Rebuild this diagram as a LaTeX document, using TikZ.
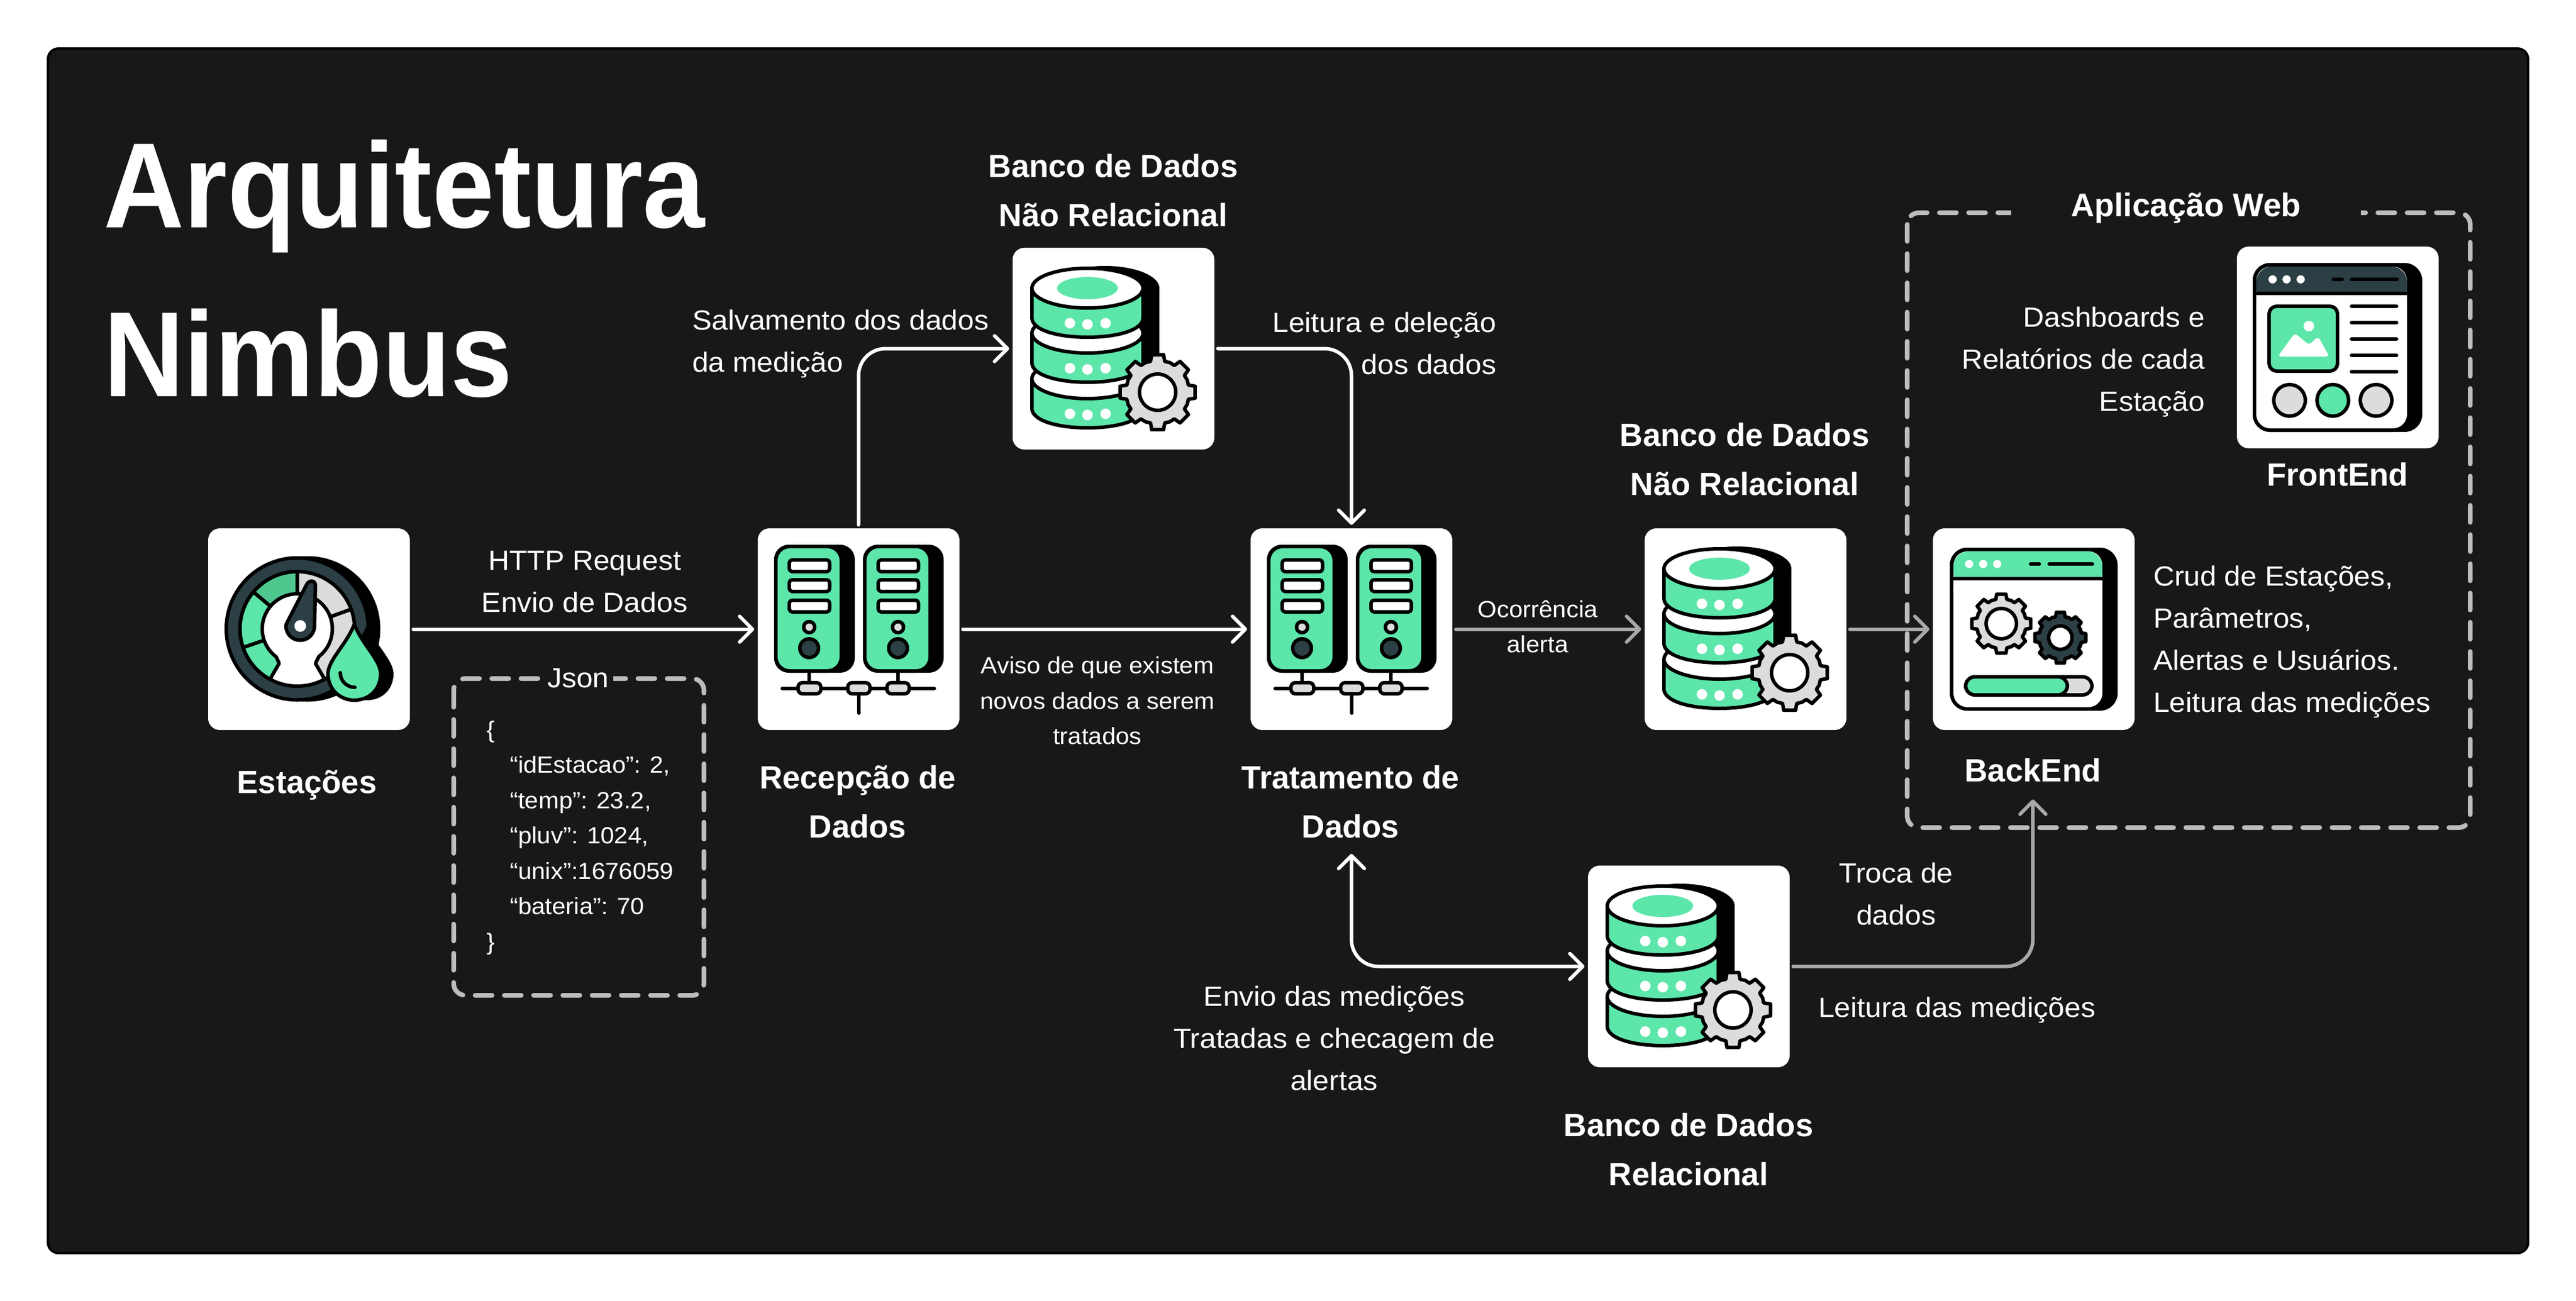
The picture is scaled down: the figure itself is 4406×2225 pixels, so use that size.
\documentclass[tikz,border=0pt]{standalone}
\usepackage{fontspec}
\setmainfont[FakeStretch=1.05,BoldFeatures={FakeStretch=0.99}]{Liberation Sans}
\newfontfamily\ttlfont[FakeStretch=0.92,BoldFeatures={FakeStretch=0.92}]{Liberation Sans}
\usetikzlibrary{arrows.meta}
\definecolor{bgc}{HTML}{181818}
\definecolor{gr}{HTML}{5CE6AA}
\definecolor{grd}{HTML}{4EC78F}
\definecolor{dk}{HTML}{2B3F44}
\definecolor{lg}{HTML}{DCDCDC}
\definecolor{dashc}{HTML}{BDBDBD}
\definecolor{arrg}{HTML}{A8A8A8}
\tikzset{
 card/.style={fill=white,rounded corners=4pt,minimum width=69pt,minimum height=69pt,inner sep=0pt,outer sep=1.2pt},
 il/.style={draw=black,line width=1.2pt,line join=round,line cap=round},
 flow/.style={line width=1.2pt,line cap=round,draw=white,-{Straight Barb[length=4.4pt,width=8.8pt,round,line width=1.2pt]}},
 flowb/.style={line width=1.2pt,line cap=round,draw=white,{Straight Barb[length=4.4pt,width=8.8pt,round,line width=1.2pt]}-{Straight Barb[length=4.4pt,width=8.8pt,round,line width=1.2pt]}},
 flowg/.style={flow,draw=arrg},
 dbox/.style={draw=dashc,line width=1.6pt,line cap=round,dash pattern=on 5.8pt off 4.2pt,rounded corners=4pt},
 tx/.style={text=white,inner sep=0pt,align=center,font=\fontsize{9.5}{14.4}\selectfont},
 txs/.style={text=white,inner sep=0pt,align=center,font=\fontsize{8}{12.1}\selectfont},
 tb/.style={text=white,inner sep=0pt,align=center,font=\fontsize{11}{16.8}\selectfont\bfseries},
 tt/.style={text=white,inner sep=0pt,anchor=base west,font=\fontsize{41.5}{50}\selectfont\ttlfont\bfseries},
}
\newcommand{\gearico}[5]{%
 \begin{scope}[shift={(#1,#2)}]
 \pgfmathsetmacro{\rb}{#3*0.83}
 \draw[il,fill=#5] (-13:\rb) \foreach \a in {0,45,...,315}{
   -- ({\a-13}:\rb) -- ({\a-9}:#3) -- ({\a+9}:#3) -- ({\a+13}:\rb) -- ({\a+22.5}:{\rb*1.015})
 } -- cycle;
 \draw[il,fill=white] (0,0) circle[radius=#4];
 \end{scope}}
\newcommand{\dblayer}[1]{%
 \draw[il,fill=gr] (33,#1) -- (33,#1+51) .. controls (33,#1+71) and (75,#1+84) .. (128,#1+84) .. controls (181,#1+84) and (223,#1+71) .. (223,#1+51) -- (223,#1);
 \draw[il,fill=white] (128,#1) ellipse[x radius=95,y radius=34];
 \foreach \dx/\dy in {98/60,128/62,159/60}{\fill[white] (\dx,#1+\dy) circle[radius=9];}
}
\newcommand{\dbicon}[2]{%
 \begin{scope}[shift={(#1,#2)}]
 \fill[black] (158,69) ellipse[x radius=93,y radius=38];
 \fill[black] (128,69) rectangle (251,240);
 \dblayer{224}
 \dblayer{146}
 \dblayer{69}
 \fill[gr] (128,69) ellipse[x radius=52,y radius=19];
 \gearico{248}{247}{65}{31}{lg}
 \end{scope}}
\newcommand{\towericon}[1]{%
 \begin{scope}[xshift=#1*0.2pt]
 \draw[il] (88,244) -- (88,274);
 \fill[black,rounded corners=5pt] (28,28) rectangle (166,247);
 \draw[il,fill=gr,rounded corners=4.8pt] (31,31) rectangle (143,244);
 \foreach \yy in {54,88,123}{\draw[il,fill=white,rounded corners=1pt] (54,\yy) rectangle (123,\yy+20);}
 \draw[il,fill=lg] (88,169) circle[radius=9.5];
 \draw[il,fill=dk] (88,205) circle[radius=16];
 \end{scope}}
\newcommand{\srvicon}[2]{%
 \begin{scope}[shift={(#1,#2)}]
 \draw[il] (42,274) -- (302,274);
 \draw[il] (173,274) -- (173,316);
 \towericon{0}
 \towericon{152}
 \foreach \xa/\xb in {69/108,154/192,221/259}{\draw[il,fill=lg,rounded corners=1.5pt] (\xa,264) rectangle (\xb,283);}
 \end{scope}}
\newcommand{\gaugeicon}[2]{%
 \begin{scope}[shift={(#1,#2)}]
 \fill[black] (170,172) circle[radius=124.5];
 \draw[il,fill=dk] (152.5,172) circle[radius=121.5];
 \begin{scope}[shift={(152.5,172)},y=0.2pt]
  \draw[il,fill=white] (0,0) circle[radius=98];
  \draw[il,fill=grd] (90:60) -- (90:98) arc (90:140:98) -- (140:60) arc (140:90:60) -- cycle;
  \draw[il,fill=gr] (140:60) -- (140:98) arc (140:199:98) -- (199:60) arc (199:140:60) -- cycle;
  \draw[il,fill=gr] (199:60) -- (199:98) arc (199:241.5:98) -- (-31,-59) -- (233:60) arc (233:199:60) -- cycle;
  \draw[il,fill=lg] (90:60) -- (90:98) arc (90:20:98) -- (20:60) arc (20:90:60) -- cycle;
  \draw[il,fill=lg] (20:60) -- (20:98) arc (20:-61.5:98) -- (31,-59) -- (-52:60) arc (-52:20:60) -- cycle;
  \draw[il,fill=dk] (-19,8) -- (16,76) .. controls (20,84) and (31,84) .. (31,74) -- (29.5,5) arc (0:-180:24.5) -- cycle;
  \fill[white] (5,5) circle[radius=10];
 \end{scope}
 \fill[black] (272,164) .. controls (258,200) and (227,225) .. (227,249) .. controls (227,276) and (248,294) .. (272,294) .. controls (297,294) and (317,276) .. (317,249) .. controls (317,225) and (286,200) .. (272,164) -- cycle;
 \draw[il,fill=gr] (250,164) .. controls (236,200) and (205,225) .. (205,249) .. controls (205,276) and (226,294) .. (250,294) .. controls (275,294) and (295,276) .. (295,249) .. controls (295,225) and (264,200) .. (250,164) -- cycle;
 \draw[il] (226,247) .. controls (226,262) and (238,272) .. (251,272);
 \end{scope}}
\newcommand{\frontcon}[2]{%
 \begin{scope}[shift={(#1,#2)}]
 \fill[black,rounded corners=6pt] (27,28) rectangle (317,317);
 \draw[il,fill=white,rounded corners=5.4pt] (30,31) rectangle (294,314);
 \fill[dk,rounded corners=5.4pt] (33,34) -- (33,100) -- (291,100) -- (291,34) -- cycle;
 \fill[white] (33,83) rectangle (291,110);
 \draw[il] (30,80) -- (294,80);
 \draw[il,rounded corners=5.4pt] (30,100) -- (30,31) -- (294,31) -- (294,100);
 \foreach \xx in {61,85,109}{\fill[white] (\xx,56) circle[radius=7];}
 \draw[il] (165,56) -- (180,56);
 \draw[il] (196,56) -- (274,56);
 \draw[il,fill=gr,rounded corners=2.6pt] (55,102) rectangle (172,213);
 \fill[white,rounded corners=1pt] (70,188) -- (99,148) -- (123,168) -- (139,154) -- (158,188) -- cycle;
 \fill[white] (123,136) circle[radius=9];
 \foreach \yy in {102,130,158,186,214}{\draw[il] (196,\yy) -- (273,\yy);}
 \draw[il,fill=lg] (90,263) circle[radius=27];
 \draw[il,fill=gr] (164,263) circle[radius=27];
 \draw[il,fill=lg] (238,263) circle[radius=27];
 \end{scope}}
\newcommand{\backicon}[2]{%
 \begin{scope}[shift={(#1,#2)}]
 \fill[black,rounded corners=6pt] (29,33) rectangle (316,312);
 \draw[il,fill=white,rounded corners=5.4pt] (32,36) rectangle (293,309);
 \fill[gr,rounded corners=5.4pt] (35,39) -- (35,100) -- (290,100) -- (290,39) -- cycle;
 \fill[white] (35,89) rectangle (290,110);
 \draw[il] (32,86) -- (293,86);
 \draw[il,rounded corners=5.4pt] (32,100) -- (32,36) -- (293,36) -- (293,100);
 \foreach \xx in {62,86,110}{\fill[white] (\xx,61) circle[radius=7];}
 \draw[il] (167,61) -- (182,61);
 \draw[il] (199,61) -- (273,61);
 \gearico{117}{163}{51}{26}{lg}
 \gearico{218}{187}{44}{20}{dk}
 \draw[il,fill=lg,rounded corners=3.2pt] (56,254) rectangle (272,285);
 \draw[il,fill=gr,rounded corners=3.2pt] (56,254) rectangle (230,285);
 \end{scope}}
\begin{document}
\begin{tikzpicture}[x=0.2pt,y=-0.2pt]
\useasboundingbox (0,0) rectangle (4406,2225);
\fill[white] (0,0) rectangle (4406,2225);
\draw[draw=black,fill=bgc,line width=0.8pt,rounded corners=3.6pt] (82,83) rectangle (4324,2144);

\node[tt] (t1) at (176,390) {Arquitetura};
\node[tt] (t2) at (176,678) {Nimbus};

% cards
\node[card] (est) at (528.5,1076.5) {};
\node[card] (rec) at (1468.5,1076.5) {};
\node[card] (dbt) at (1904.5,596.5) {};
\node[card] (tra) at (2311.5,1076.5) {};
\node[card] (dbm) at (2985.5,1076.5) {};
\node[card] (dbr) at (2888.5,1653.5) {};
\node[card] (bac) at (3478.5,1076.5) {};
\node[card] (fro) at (3998.5,594.5) {};

\gaugeicon{356}{904}
\srvicon{1296}{904}
\dbicon{1732}{424}
\srvicon{2139}{904}
\dbicon{2813}{904}
\dbicon{2716}{1481}
\backicon{3306}{904}
\frontcon{3826}{422}

% dashed frames
\draw[dbox] (776,1161) rectangle (1204,1703);
\draw[dbox] (3262,364) rectangle (4225,1416);
\node[tx,fill=bgc,inner xsep=1.5pt,inner ysep=1pt] (jst) at (989,1160) {Json};
\node[tb,fill=bgc,inner xsep=20.5pt,inner ysep=2pt] (app) at (3739,356) {\fontsize{11.2}{16.8}\selectfont Aplicação Web};

% labels
\node[tb] (lest) at (525,1343) {Estações};
\node[tb] (lrec) at (1467,1372) {Recepção de\\Dados};
\node[tb] (ltra) at (2310,1372) {Tratamento de\\Dados};
\node[tb] (ldbt) at (1904,326) {Banco de Dados\\Não Relacional};
\node[tb] (ldbm) at (2984,786) {Banco de Dados\\Não Relacional};
\node[tb] (ldbr) at (2888,1967) {Banco de Dados\\Relacional};
\node[tb] (lfro) at (3998,812) {FrontEnd};
\node[tb] (lbac) at (3477,1318) {BackEnd};

\node[tx] (thttp) at (1000,995) {HTTP Request\\Envio de Dados};
\node[tx,align=left,anchor=west] (tsal) at (1183,588) {Salvamento dos dados\\da medição};
\node[tx,align=right,anchor=east] (tlei) at (2560,588) {Leitura e deleção\\dos dados};
\node[txs] (tavi) at (1877,1199) {Aviso de que existem\\novos dados a serem\\tratados};
\node[txs] (toco) at (2630,1072) {Ocorrência\\alerta};
\node[tx] (ttro) at (3243,1529) {Troca de\\dados};
\node[tx] (tlmd) at (3347,1728) {Leitura das medições};
\node[tx] (tenv) at (2282,1776) {Envio das medições\\Tratadas e checagem de\\alertas};
\node[tx,align=right,anchor=east] (tdas) at (3772,619) {Dashboards e\\Relatórios de cada\\Estação};
\node[tx,align=left,anchor=west] (tcru) at (3682,1098) {Crud de Estações,\\Parâmetros,\\Alertas e Usuários.\\Leitura das medições};
\node[txs,align=left,anchor=north west] (tjs) at (831,1232) {\{\\\hspace*{8pt}“idEstacao”: 2,\\\hspace*{8pt}“temp”: 23.2,\\\hspace*{8pt}“pluv”: 1024,\\\hspace*{8pt}“unix”:1676059\\\hspace*{8pt}“bateria”: 70\\\}};

% connectors
\coordinate (tipb) at (3477,1368);
\coordinate (tipt) at (2311.5,1461);
\draw[flow] (est) -- (rec);
\draw[flow] (rec) -- (tra);
\draw[flow,rounded corners=9.2pt] (rec.north) |- (dbt.west);
\draw[flow,rounded corners=9.2pt] (dbt.east) -| (tra.north);
\draw[flowg] (tra) -- (dbm);
\draw[flowg] (dbm) -- (bac);
\draw[flowg,rounded corners=9.2pt] (dbr.east) -| (tipb);
\draw[flowb,rounded corners=9.2pt] (tipt) |- (dbr.west);
\end{tikzpicture}
\end{document}
